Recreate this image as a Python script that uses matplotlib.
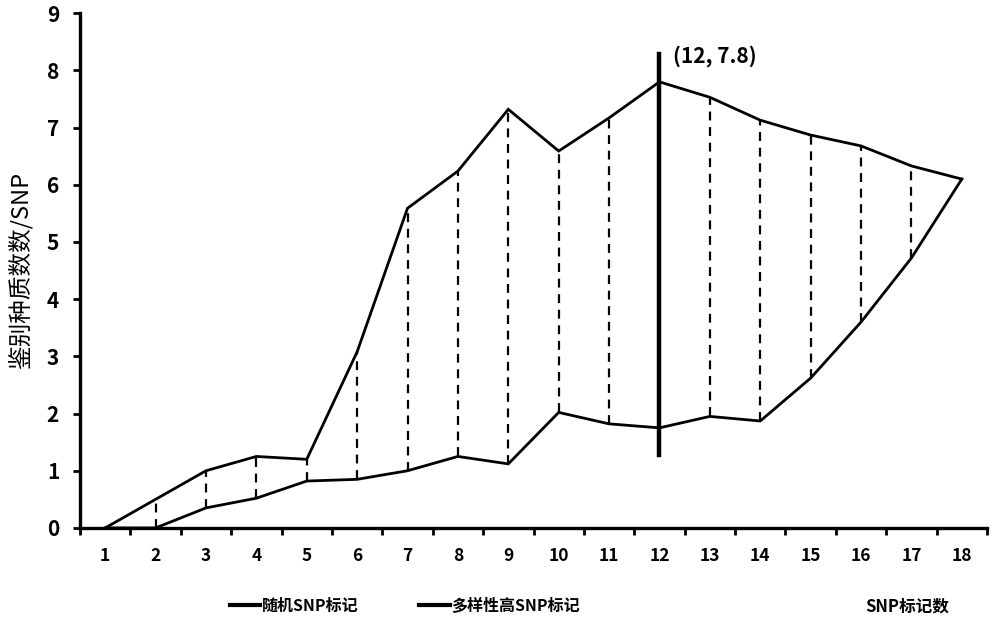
import matplotlib.pyplot as plt
from matplotlib.lines import Line2D

plt.rcParams['font.family'] = ['Noto Sans CJK SC', 'DejaVu Sans']

# 数据
snp_n = list(range(1, 19))
random_snp = [0, 0, 0.35, 0.52, 0.82, 0.85, 1.0, 1.25, 1.12, 2.02, 1.82, 1.75, 1.95, 1.87, 2.62, 3.6, 4.72, 6.1]
diverse_snp = [0, 0.5, 1.0, 1.25, 1.2, 3.08, 5.59, 6.24, 7.32, 6.59, 7.17, 7.8, 7.53, 7.13, 6.87, 6.68, 6.33, 6.1]
peak_x, peak_y = 12, 7.8
mark_lo, mark_hi = 1.28, 8.28

fig = plt.figure(figsize=(10, 6.3), dpi=100)
ax = fig.add_axes([0.08, 0.162, 0.907, 0.817])

ax.plot(snp_n, random_snp, color='black', lw=2.0, solid_joinstyle='miter')
ax.plot(snp_n, diverse_snp, color='black', lw=2.0, solid_joinstyle='miter')

# 虚线连接
for x, lo, hi in zip(snp_n, random_snp, diverse_snp):
    if hi - lo > 0.05:
        ax.plot([x, x], [lo, hi], color='black', lw=1.6, ls=(0, (4, 3)))

# 最大值标记
ax.plot([peak_x, peak_x], [mark_lo, mark_hi], color='black', lw=3.2)
ax.annotate(f'({peak_x}, {peak_y})', xy=(peak_x, mark_hi), xytext=(10, -1),
            textcoords='offset points', fontsize=15, fontweight='bold',
            ha='left', va='center')

ax.set_xlim(0.5, 18.5)
ax.set_ylim(0, 9)
ax.set_yticks(range(0, 10))
ax.set_xticks(snp_n)
ax.set_xticks([i + 0.5 for i in range(0, 19)], minor=True)
ax.tick_params(axis='x', which='major', length=0, pad=14, labelsize=12.5)
ax.tick_params(axis='x', which='minor', length=5, width=2, direction='out')
ax.tick_params(axis='y', length=5, width=2, direction='out', labelsize=15, pad=10)
for lab in ax.get_xticklabels() + ax.get_yticklabels():
    lab.set_fontweight('bold')

for s in ['top', 'right']:
    ax.spines[s].set_visible(False)
ax.spines['left'].set_linewidth(2.4)
ax.spines['bottom'].set_linewidth(2.4)

ax.set_ylabel('鉴别种质数数/SNP', fontsize=17, labelpad=10)

handles = [Line2D([], [], color='black', lw=3),
           Line2D([], [], color='black', lw=3)]
fig.legend(handles, ['随机SNP标记', '多样性高SNP标记'], loc='center',
           bbox_to_anchor=(0.405, 0.038), ncol=2, frameon=False,
           handlelength=1.9, handletextpad=0.1, columnspacing=3.8,
           prop={'size': 11.5, 'weight': 'bold'})
fig.text(0.907, 0.038, 'SNP标记数', fontsize=12, fontweight='bold',
         ha='center', va='center')

fig.savefig('out.png', dpi=100)
